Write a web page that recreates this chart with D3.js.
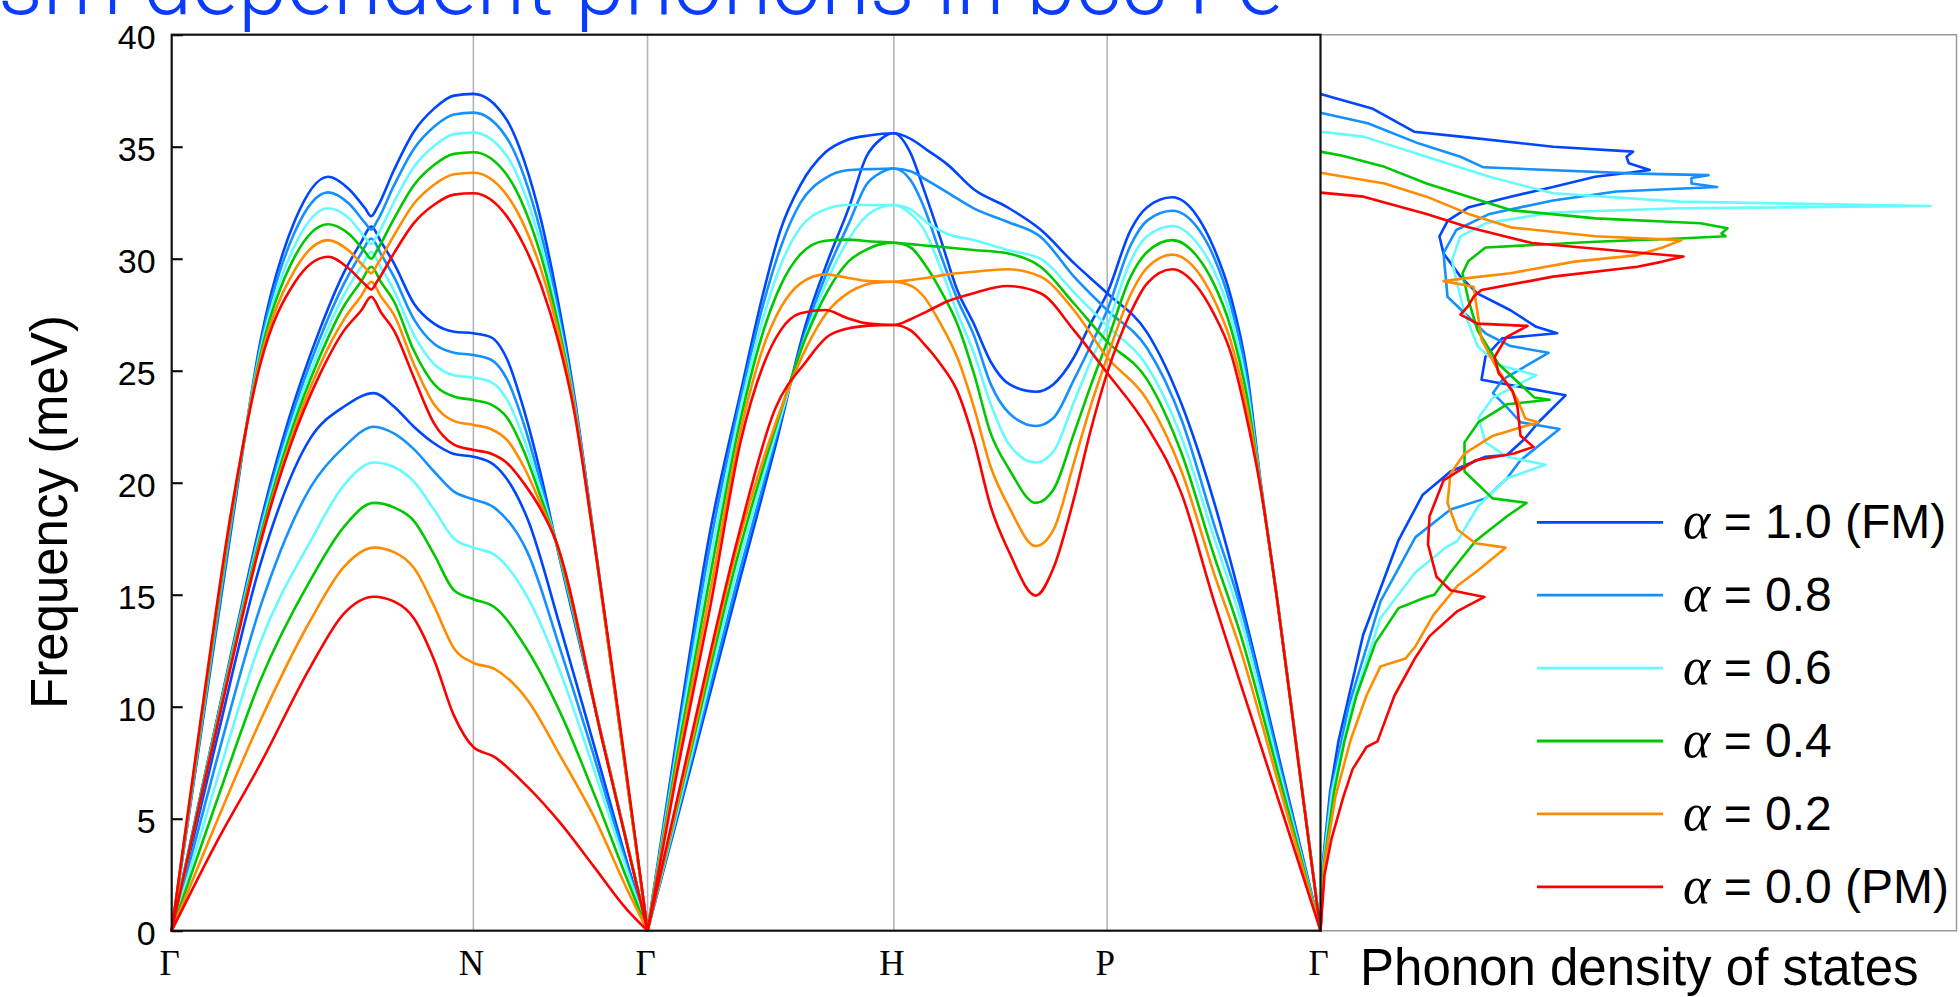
<!DOCTYPE html>
<html>
<head>
<meta charset="utf-8">
<script src="https://cdn.jsdelivr.net/npm/d3@7/dist/d3.min.js"></script>
<style>
html,body{margin:0;padding:0;background:#ffffff;overflow:hidden;}
svg{display:block;}
</style>
</head>
<body>
<svg id="chart" width="1960" height="997"></svg>
<script>
// ---------------- DATA ----------------
const alphaLabels = ["1.0 (FM)", "0.8", "0.6", "0.4", "0.2", "0.0 (PM)"];
const colors = ["#0046ff", "#1490ff", "#66faff", "#00c800", "#ff8c00", "#ff0000"];
const kLabels = ["Γ", "N", "Γ", "H", "P", "Γ"];
const kTicks = [0, 1.2247, 1.9318, 2.9318, 3.7978, 4.6638];
const freqTicks = [0, 5, 10, 15, 20, 25, 30, 35, 40];

// Γ-N-Γ : upper branch
const kU = [0, 0.12, 0.24, 0.36, 0.50, 0.635, 0.72, 0.785, 0.81, 0.835, 0.902, 0.983, 1.065, 1.146, 1.2247, 1.36, 1.43, 1.50, 1.57, 1.633, 1.714, 1.9318];
const bandU = [
  [0, 8.9, 17.8, 26.3, 31.7, 33.66, 33.1, 32.25, 31.9, 32.3, 33.95, 35.67, 36.7, 37.28, 37.36, 36.2, 34.4, 31.7, 28.0, 24.0, 17.6, 0],
  [0, 9.0, 18.0, 26.1, 31.2, 32.96, 32.45, 31.6, 31.3, 31.7, 33.26, 34.9, 35.89, 36.44, 36.52, 35.4, 33.7, 31.1, 27.6, 23.8, 17.55, 0],
  [0, 9.2, 18.2, 25.9, 30.6, 32.25, 31.8, 30.95, 30.65, 31.05, 32.52, 34.09, 35.03, 35.56, 35.63, 34.6, 33.0, 30.6, 27.3, 23.65, 17.5, 0],
  [0, 9.3, 18.3, 25.7, 30.1, 31.54, 31.1, 30.3, 30.0, 30.4, 31.78, 33.28, 34.18, 34.68, 34.75, 33.75, 32.3, 30.1, 27.0, 23.5, 17.5, 0],
  [0, 9.5, 18.5, 25.5, 29.5, 30.83, 30.35, 29.6, 29.35, 29.75, 31.03, 32.45, 33.3, 33.77, 33.84, 32.85, 31.5, 29.5, 26.7, 23.4, 17.45, 0],
  [0, 9.6, 18.6, 25.3, 28.95, 30.09, 29.55, 28.85, 28.63, 29.0, 30.24, 31.59, 32.41, 32.86, 32.92, 31.9, 30.6, 28.8, 26.3, 23.25, 17.44, 0]
];
// Γ-N-Γ : middle branch
const kM = [0, 0.12, 0.24, 0.36, 0.48, 0.60, 0.70, 0.77, 0.81, 0.85, 0.902, 0.983, 1.065, 1.146, 1.2247, 1.295, 1.362, 1.43, 1.50, 1.558, 1.75, 1.9318];
const bandM = [
  [0, 6.2, 12.3, 18.2, 23.0, 26.8, 29.4, 30.75, 31.43, 30.75, 29.8, 28.0, 27.1, 26.74, 26.67, 26.5, 25.5, 23.25, 20.3, 17.44, 8.5, 0],
  [0, 6.2, 12.2, 18.0, 22.7, 26.4, 28.9, 30.25, 30.9, 30.2, 29.2, 27.3, 26.2, 25.8, 25.7, 25.5, 24.6, 22.6, 19.9, 17.44, 8.5, 0],
  [0, 6.1, 12.1, 17.8, 22.4, 26.0, 28.4, 29.65, 30.3, 29.6, 28.6, 26.6, 25.3, 24.8, 24.69, 24.5, 23.7, 21.95, 19.6, 17.44, 8.5, 0],
  [0, 6.1, 12.0, 17.6, 22.1, 25.6, 27.9, 29.0, 29.64, 28.95, 28.1, 25.9, 24.4, 23.85, 23.69, 23.5, 22.9, 21.4, 19.3, 17.44, 8.45, 0],
  [0, 6.0, 11.9, 17.4, 21.8, 25.2, 27.3, 28.35, 28.97, 28.3, 27.5, 25.3, 23.5, 22.75, 22.58, 22.4, 21.9, 20.7, 19.0, 17.44, 8.45, 0],
  [0, 6.0, 11.8, 17.3, 21.6, 24.8, 26.8, 27.7, 28.3, 27.6, 26.8, 24.7, 22.65, 21.7, 21.46, 21.3, 20.87, 19.97, 18.78, 17.44, 8.4, 0]
];
// Γ-N-Γ : lowest branch
const kL = [0, 0.18, 0.361, 0.564, 0.70, 0.821, 0.902, 0.983, 1.065, 1.146, 1.2247, 1.308, 1.444, 1.579, 1.714, 1.85, 1.9318];
const bandL = [
  [0, 8.4, 16.4, 22.0, 23.4, 24.0, 23.4, 22.5, 21.76, 21.28, 21.16, 20.8, 18.4, 13.5, 8.3, 3.0, 0],
  [0, 7.5, 14.5, 19.8, 21.6, 22.5, 22.2, 21.5, 20.5, 19.6, 19.26, 18.9, 16.9, 12.5, 7.8, 2.85, 0],
  [0, 6.6, 12.9, 17.4, 19.9, 20.9, 20.7, 20.05, 18.8, 17.5, 17.1, 16.8, 14.9, 11.5, 7.2, 2.65, 0],
  [0, 5.7, 11.2, 15.67, 18.04, 19.1, 18.9, 18.3, 16.8, 15.2, 14.8, 14.46, 12.53, 9.7, 6.13, 2.26, 0],
  [0, 4.8, 9.4, 13.87, 16.25, 17.1, 16.9, 16.2, 14.5, 12.6, 11.96, 11.7, 10.3, 7.77, 5.09, 1.82, 0],
  [0, 3.9, 7.47, 11.79, 14.17, 14.91, 14.7, 13.95, 12.1, 9.6, 8.2, 7.77, 6.43, 4.79, 2.86, 0.92, 0]
];
// Γ-H-P-Γ : branch through the H-P upper path
const kA = [1.9318, 2.05, 2.187, 2.311, 2.40, 2.472, 2.553, 2.654, 2.742, 2.83, 2.9318, 3.0, 3.067, 3.15, 3.256, 3.392, 3.527, 3.663, 3.7978, 3.96, 4.10, 4.23, 4.34, 4.50, 4.6638];
const bandA = [
  [0, 8.6, 17.9, 24.1, 28.4, 31.3, 33.3, 34.75, 35.3, 35.5, 35.6, 35.35, 34.85, 34.2, 33.1, 32.3, 31.3, 29.8, 28.46, 26.7, 23.5, 19.2, 14.76, 7.5, 0],
  [0, 8.3, 17.3, 23.8, 27.9, 30.5, 32.5, 33.6, 33.95, 34.0, 34.03, 33.9, 33.5, 32.95, 32.25, 31.65, 30.98, 29.2, 27.7, 26.0, 22.8, 18.2, 14.4, 7.3, 0],
  [0, 8.0, 16.6, 23.4, 27.3, 29.7, 31.4, 32.2, 32.4, 32.4, 32.4, 32.2, 31.6, 31.1, 30.83, 30.39, 30.0, 28.5, 27.0, 25.2, 22.0, 17.6, 13.9, 7.0, 0],
  [0, 7.7, 15.9, 22.9, 26.7, 28.8, 30.2, 30.8, 30.85, 30.78, 30.71, 30.65, 30.58, 30.5, 30.39, 30.24, 29.64, 28.0, 26.3, 24.6, 21.3, 16.8, 13.2, 6.7, 0],
  [0, 7.35, 15.2, 22.4, 26.0, 27.8, 28.9, 29.3, 29.15, 29.0, 28.97, 29.05, 29.15, 29.3, 29.42, 29.53, 29.2, 27.7, 25.6, 23.7, 20.5, 16.0, 12.5, 6.3, 0],
  [0, 7.0, 14.5, 21.9, 25.2, 26.8, 27.56, 27.71, 27.35, 27.1, 27.04, 27.3, 27.65, 28.1, 28.46, 28.78, 28.46, 26.8, 24.9, 22.5, 19.5, 14.76, 11.0, 5.6, 0]
];
// Γ-H-P-Γ : branch through the H-P minimum
const kB = [1.9318, 2.10, 2.30, 2.45, 2.575, 2.66, 2.75, 2.82, 2.88, 2.9318, 3.0, 3.054, 3.121, 3.189, 3.256, 3.325, 3.40, 3.508, 3.58, 3.663, 3.73, 3.7978, 3.893, 3.96, 4.062, 4.163, 4.23, 4.30, 4.366, 4.42, 4.488, 4.58, 4.6638];
const bandB = [
  [0, 7.0, 15.4, 21.6, 27.1, 29.8, 32.3, 34.55, 35.35, 35.6, 34.7, 33.07, 30.9, 28.6, 27.1, 25.4, 24.4, 24.06, 24.4, 25.6, 27.1, 28.46, 31.28, 32.3, 32.74, 31.9, 30.5, 28.3, 24.9, 20.1, 14.8, 7.1, 0],
  [0, 7.2, 15.8, 21.9, 26.8, 29.4, 31.6, 33.3, 33.85, 34.03, 33.5, 32.3, 30.2, 28.2, 26.6, 24.4, 23.1, 22.53, 22.9, 24.6, 26.1, 27.7, 30.6, 31.7, 32.14, 31.4, 30.1, 27.9, 24.6, 20.0, 14.8, 7.1, 0],
  [0, 7.4, 16.3, 22.1, 26.6, 29.0, 30.9, 31.9, 32.3, 32.4, 32.0, 31.3, 29.6, 27.6, 25.8, 23.5, 21.7, 20.9, 21.4, 23.6, 25.4, 27.0, 29.9, 31.0, 31.46, 30.7, 29.5, 27.4, 24.2, 19.95, 14.8, 7.1, 0],
  [0, 7.7, 16.8, 22.4, 26.5, 28.5, 29.9, 30.4, 30.65, 30.71, 30.5, 29.8, 28.6, 27.1, 24.9, 22.2, 20.6, 19.1, 19.7, 22.2, 24.3, 26.3, 29.2, 30.3, 30.83, 30.1, 28.9, 26.9, 23.8, 19.9, 14.8, 7.05, 0],
  [0, 7.9, 17.3, 22.6, 26.0, 27.6, 28.5, 28.85, 28.95, 28.97, 28.8, 28.3, 27.1, 25.6, 23.4, 20.7, 18.9, 17.17, 17.9, 20.9, 23.4, 25.6, 28.4, 29.6, 30.18, 29.45, 28.2, 26.3, 23.3, 19.85, 14.77, 7.0, 0],
  [0, 8.2, 17.6, 23.3, 25.4, 26.5, 26.9, 27.0, 27.03, 27.04, 26.8, 26.2, 25.3, 24.1, 21.9, 18.93, 16.9, 14.96, 16.2, 19.3, 22.3, 24.9, 27.6, 28.9, 29.53, 28.75, 27.56, 25.78, 22.8, 19.8, 14.76, 7.0, 0]
];

// Phonon DOS: [frequency (meV), DOS (arb. units)]
const dosFM = [[0,0],[3,0.23],[6.2,0.96],[8.47,1.8],[13.2,4.26],[17.4,7.77],[19.45,10.2],[20.5,13.0],[21.16,16.5],[21.24,18.65],[21.95,20.4],[22.7,21.8],[23.9,24.5],[24.36,19.0],[24.6,16.1],[25.63,16.5],[26.45,18.2],[26.67,23.67],[26.96,21.57],[27.7,19.0],[28.45,15.68],[29.2,14.0],[30.24,12.3],[31.0,11.89],[31.7,12.73],[32.3,14.84],[32.77,19.0],[33.2,23.25],[33.66,27.46],[33.84,30.83],[33.96,32.93],[34.26,30.83],[34.55,30.6],[34.78,31.25],[35.0,23.25],[35.45,14.0],[35.67,9.36],[36.71,5.15],[37.35,0]];
const dos08 = [[0,0],[3,0.25],[6.2,1.05],[10,2.8],[14.7,6.0],[17.57,9.5],[18.8,13.0],[19.3,16.5],[20.2,18.65],[21.0,20.0],[22.4,23.9],[22.7,20.0],[23.36,18.65],[24.0,17.25],[24.6,18.2],[25.8,22.8],[26.1,19.0],[26.67,16.5],[28.3,12.7],[30.25,12.3],[31.28,13.57],[32.0,16.9],[32.6,23.25],[33.0,29.57],[33.2,39.67],[33.36,37.1],[33.6,37.1],[33.73,38.8],[33.8,31.67],[34.08,16.3],[34.55,14.0],[35.15,9.78],[36.05,4.73],[36.52,0]];
const dos06 = [[0,0],[3,0.3],[6.2,1.15],[10,3.1],[13.96,6.0],[16.0,9.5],[17.1,12.5],[17.4,13.7],[18.97,15.8],[20.2,18.65],[20.8,22.5],[21.16,18.65],[21.8,16.5],[22.9,15.8],[23.8,17.25],[24.8,21.57],[25.25,17.8],[26.1,15.7],[27.6,14.4],[29.05,13.57],[29.94,13.15],[31.0,14.0],[31.58,16.5],[32.06,23.25],[32.25,35.9],[32.35,61.0],[32.55,35.9],[32.92,23.25],[33.66,16.9],[34.55,10.6],[35.45,4.3],[35.67,0]];
const dos04 = [[0,0],[3,0.35],[6.2,1.35],[8.47,2.4],[10.5,3.6],[12.86,5.5],[14.4,7.8],[14.9,10.6],[15.0,11.4],[16.0,13.0],[17.4,15.5],[18.5,18.65],[19.1,20.6],[19.3,17.2],[20.5,14.4],[21.8,14.4],[22.7,15.8],[23.5,18.65],[23.7,22.9],[23.8,21.4],[25.3,17.8],[26.8,15.7],[28.15,14.8],[29.35,14.2],[29.9,14.8],[30.5,16.5],[30.76,27.5],[30.9,35.9],[31.0,40.5],[31.13,40.1],[31.36,40.7],[31.58,38.0],[31.8,27.5],[32.17,19.0],[32.77,14.8],[33.36,10.6],[34.1,6.4],[34.6,2.2],[34.78,0]];
const dos02 = [[0,0],[3,0.4],[6,1.5],[8.5,3.0],[10.5,4.6],[11.8,6.0],[12.05,7.8],[12.15,8.5],[12.7,9.5],[14.1,11.3],[15.4,13.7],[16.1,15.8],[17.1,18.5],[17.3,15.5],[17.9,13.7],[19.1,12.7],[20.4,13.0],[21.3,14.4],[22.1,17.25],[22.7,21.8],[22.85,20.5],[23.7,19.7],[25.3,17.4],[26.4,16.1],[27.6,15.7],[28.75,15.3],[29.0,12.3],[29.1,14.0],[29.35,19.0],[29.87,25.4],[30.16,31.7],[30.5,34.2],[30.83,36.1],[31.0,27.5],[31.4,19.0],[32.0,14.8],[32.77,10.6],[33.36,6.4],[33.84,0]];
const dosPM = [[0,0],[2.5,0.4],[4.1,1.1],[6,2.3],[7.2,3.2],[8.2,4.6],[8.45,5.7],[8.7,5.9],[10.5,7.4],[12.2,9.5],[13.15,10.9],[14.27,13.7],[14.9,16.4],[15.2,13.0],[15.8,11.6],[17.25,10.75],[18.5,10.9],[20.1,12.3],[21.0,15.5],[21.3,19.35],[21.6,21.3],[22.1,20.0],[23.36,19.7],[24.1,19.2],[24.9,17.8],[25.6,17.4],[26.5,18.6],[27.0,20.7],[27.1,15.7],[27.5,14.0],[27.9,14.8],[28.3,15.3],[28.6,16.1],[29.2,23.25],[29.64,31.7],[29.87,34.2],[30.1,36.3],[30.24,32.5],[30.7,21.15],[31.4,14.8],[32.0,10.6],[32.77,4.3],[32.95,0]];

// ---------------- DRAWING ----------------
const svg = d3.select("#chart");
const SANS = "'Liberation Sans', Arial, Helvetica, sans-serif";
const SERIF = "'Liberation Serif', 'Times New Roman', serif";

const x = d3.scaleLinear().domain([kTicks[0], kTicks[kTicks.length - 1]]).range([171.7, 1320.5]);
const y = d3.scaleLinear().domain([0, 40]).range([930.7, 34.7]);
const xd = d3.scaleLinear().domain([0, 64]).range([1320.5, 1960.5]);

// Title (partially cut off at the top-left, as in the original)
const fullTitle = "Magnetism dependent phonons in bcc Fe";
const title = svg.append("text")
  .attr("x", 1283).attr("y", 14)
  .attr("text-anchor", "end")
  .attr("fill", "#0a3cff")
  .style("font-family", "Roboto, 'Open Sans', Lato, sans-serif")
  .style("font-weight", 300)
  .style("font-size", "86px")
  .text(fullTitle);
try {
  const idx = fullTitle.indexOf("dependent");
  const wSub = title.node().getSubStringLength(idx, fullTitle.length - idx);
  if (wSub > 0) title.style("font-size", (86 * 1140 / wSub).toFixed(2) + "px");
} catch (e) {}

// DOS panel frame (grey)
const dosFrame = svg.append("g").attr("stroke", "#9a9a9a").attr("stroke-width", 1.5).attr("fill", "none");
dosFrame.append("line").attr("x1", x(kTicks[5])).attr("x2", 1957).attr("y1", y(40)).attr("y2", y(40));
dosFrame.append("line").attr("x1", x(kTicks[5])).attr("x2", 1957).attr("y1", y(0)).attr("y2", y(0));
dosFrame.append("line").attr("x1", 1956.5).attr("x2", 1956.5).attr("y1", y(40)).attr("y2", y(0));

// Vertical grid lines at interior high-symmetry points
svg.append("g").selectAll("line")
  .data(kTicks.slice(1, kTicks.length - 1))
  .join("line")
  .attr("x1", d => x(d)).attr("x2", d => x(d))
  .attr("y1", y(40)).attr("y2", y(0))
  .attr("stroke", "#b4b4b4").attr("stroke-width", 1.6);

// Band lines
const bandLine = d3.line().x(d => x(d[0])).y(d => y(d[1])).curve(d3.curveMonotoneX);
const branches = [[kU, bandU], [kM, bandM], [kL, bandL], [kA, bandA], [kB, bandB]];
const gBands = svg.append("g").attr("fill", "none").attr("stroke-width", 2.6).attr("stroke-linecap", "round");
for (let i = 0; i < colors.length; i++) {
  for (const [ks, vals] of branches) {
    const pts = ks.map((k, j) => [k, vals[i][j]]);
    gBands.append("path").attr("d", bandLine(pts)).attr("stroke", colors[i]);
  }
}

// DOS curves
const dosSeries = [dosFM, dos08, dos06, dos04, dos02, dosPM];
const dosLine = d3.line().x(d => xd(d[1])).y(d => y(d[0]));
const gDos = svg.append("g").attr("fill", "none").attr("stroke-width", 2.6).attr("stroke-linejoin", "round");
dosSeries.forEach((s, i) => gDos.append("path").attr("d", dosLine(s)).attr("stroke", colors[i]));

// Band-structure frame (black)
svg.append("rect")
  .attr("x", x(kTicks[0])).attr("y", y(40))
  .attr("width", x(kTicks[5]) - x(kTicks[0])).attr("height", y(0) - y(40))
  .attr("fill", "none").attr("stroke", "#111").attr("stroke-width", 2.2);

// Y axis (inward ticks)
const yAxis = d3.axisLeft(y).tickValues(freqTicks).tickSize(-11).tickPadding(16).tickFormat(d3.format("d"));
const gy = svg.append("g").attr("transform", `translate(${x(kTicks[0])},0)`).call(yAxis);
gy.select(".domain").remove();
gy.selectAll(".tick line").attr("stroke", "#111").attr("stroke-width", 2.2);
gy.selectAll(".tick text").attr("fill", "#000").style("font-family", SANS).style("font-size", "34px").attr("dy", "0.42em");

// X labels (high-symmetry points)
svg.append("g").selectAll("text")
  .data(kTicks)
  .join("text")
  .attr("x", d => x(d) - 2)
  .attr("y", 975)
  .attr("text-anchor", "middle")
  .style("font-family", SERIF).style("font-size", "35px").attr("fill", "#000")
  .text((d, i) => kLabels[i]);

// Axis titles
svg.append("text")
  .attr("transform", `translate(67,512) rotate(-90)`)
  .attr("text-anchor", "middle")
  .style("font-family", SANS).style("font-size", "51px").attr("fill", "#000")
  .text("Frequency (meV)");
svg.append("text")
  .attr("x", 1360).attr("y", 985)
  .style("font-family", SANS).style("font-size", "51px").attr("fill", "#000")
  .text("Phonon density of states");

// Legend
const legend = svg.append("g");
const legY0 = 522.3, legDy = 72.9;
alphaLabels.forEach((lab, i) => {
  const ly = legY0 + i * legDy;
  legend.append("line").attr("x1", 1537).attr("x2", 1663).attr("y1", ly).attr("y2", ly)
    .attr("stroke", colors[i]).attr("stroke-width", 2.8);
  const t = legend.append("text").attr("x", 1683).attr("y", ly + 16).attr("fill", "#000");
  t.append("tspan").style("font-family", SERIF).style("font-style", "italic").style("font-size", "52px").text("α");
  t.append("tspan").style("font-family", SANS).style("font-size", "48px").text(" = " + lab);
});
</script>
</body>
</html>
